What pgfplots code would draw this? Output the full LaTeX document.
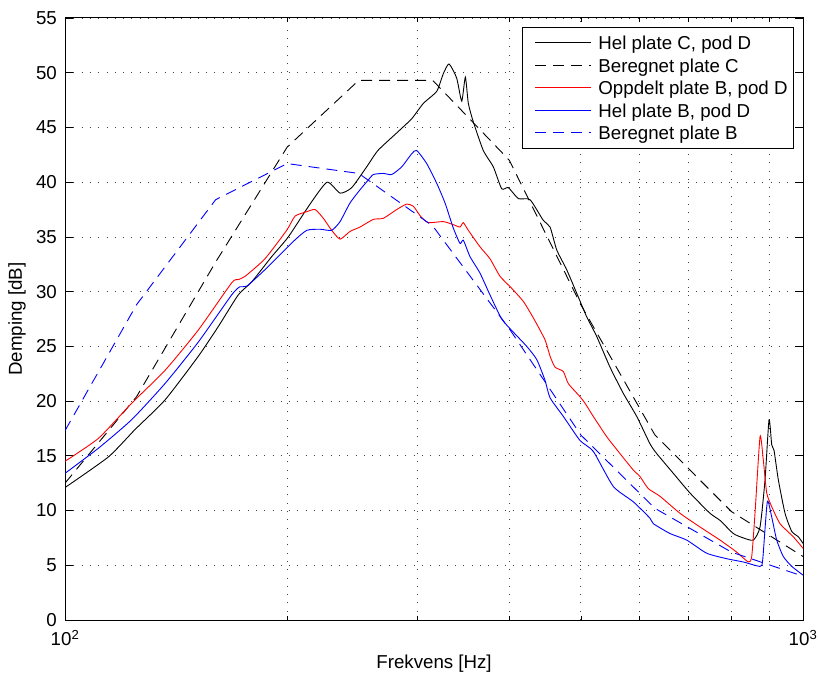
\documentclass[border=0pt]{standalone}
\usepackage{fontspec}
\setmainfont{Liberation Sans}
\usepackage{pgfplots}
\pgfplotsset{compat=1.18}
\begin{document}
\fontsize{18.7pt}{22.4pt}\selectfont
\begin{tikzpicture}
\begin{axis}[
  at={(0pt,0pt)}, anchor=south west,
  scale only axis, width=738pt, height=602pt,
  xmode=log, xmin=100, xmax=1000, ymin=0, ymax=55,
  xtick={100,1000}, xticklabels={10\textsuperscript{2},10\textsuperscript{3}},
  minor xtick={200,300,400,500,600,700,800,900},
  ytick={0,5,...,55},
  /pgf/number format/assume math mode=true,
  tick align=inside, major tick length=8pt, minor tick length=4.5pt,
  every tick/.style={black, line width=0.7pt},
  axis line style={line width=1pt},
  xmajorgrids, xminorgrids, ymajorgrids,
  grid style={black!75, line width=0.8pt, dash pattern=on 1pt off 7.3pt},
  minor grid style={black!75, line width=0.8pt, dash pattern=on 1pt off 7.3pt},
  yticklabel style={inner sep=0pt, anchor=east, xshift=-8pt},
  xticklabel style={inner sep=0pt, anchor=north, yshift=-10pt},
  xlabel={Frekvens [Hz]}, ylabel={Demping [dB]},
  xlabel style={inner sep=0pt, at={(axis description cs:0.5,-0.058)}, anchor=north},
  ylabel style={inner sep=0pt, at={(axis description cs:-0.053,0.5)}, anchor=south},
  legend cell align=left,
  legend style={at={(rel axis cs:0.9878,0.985)}, anchor=north east,
    draw=black, line width=0.8pt, inner xsep=6pt, inner ysep=8.5pt,
    nodes={inner sep=0pt, text height=14pt, text depth=0pt},
    row sep=8.5pt, column sep=0pt},
  legend image code/.code={\path (-6pt,0pt) (63pt,0pt); \draw[#1] (0pt,0pt) -- (56pt,0pt);},
]
\addplot[black, line width=0.9pt, smooth, tension=0.35] coordinates {
(100,12.1)(114.5,14.9)(124.4,17.4)(136.6,20.1)(151.6,24.1)(161.3,26.8)(171.7,29.7)(179.1,30.9)(190.6,33.2)(200.7,35.0)(214.8,38.0)(226.5,40.0)(235.9,39.0)(244.6,39.5)(256.3,41.4)(265.5,42.9)(281.5,44.5)(295.0,45.8)(305.9,47.2)(318.9,48.3)(325.5,49.9)(331.4,50.8)(339.4,49.5)(344.8,47.4)(348.7,49.6)(352.0,47.2)(357.5,45.5)(368.8,42.9)(380.5,41.4)(390.6,39.4)(398.8,39.5)(411.4,38.5)(426.7,38.4)(444.8,36.5)(454.2,35.9)(463.8,33.8)(478.4,32.0)(496.1,29.5)(509.2,27.7)(525.4,25.9)(547.6,23.1)(570.9,20.7)(595.2,18.6)(620.4,16.1)(633.6,15.2)(667.2,13.4)(702.9,11.6)(748.1,9.75)(771.9,9.1)(804.6,7.9)(830.1,7.5)(856.4,7.3)(874.5,8.5)(888.2,12.8)(899.4,18.3)(907.0,16.0)(913.5,15.5)(925.9,12.8)(945.4,9.75)(965.4,8.1)(985.5,7.6)(1000,7.0)
};
\addlegendentry{Hel plate C, pod D}
\addplot[black, line width=0.9pt, dash pattern=on 11pt off 7pt] coordinates {
(100,12.5)(125,20.4)(160,32.7)(200,43.2)(250,49.3)(315,49.3)(400,42.0)(500,28.8)(630,16.9)(800,9.9)(1000,5.8)
};
\addlegendentry{Beregnet plate C}
\addplot[red, line width=0.9pt, smooth, tension=0.35] coordinates {
(100,14.5)(111.0,16.6)(123.1,19.8)(136.6,22.8)(151.6,26.5)(168.2,30.8)(171.7,31.1)(175.4,31.4)(186.6,33.0)(199.7,35.6)(205.0,36.9)(212.6,37.3)(218.2,37.5)(223.9,36.7)(229.8,35.6)(235.9,34.8)(243.3,35.5)(251.0,35.9)(261.7,36.6)(270.0,36.7)(281.5,37.5)(290.4,38.0)(296.5,37.8)(303.5,36.85)(310.7,36.3)(325.5,36.4)(336.5,36.1)(343.0,35.9)(346.5,36.3)(352.0,35.6)(365.0,34.1)(376.6,33.0)(388.6,31.4)(403.0,30.3)(417.9,29.1)(431.1,27.6)(447.1,25.6)(454.2,24.1)(461.3,23.1)(473.4,22.7)(480.8,21.6)(498.7,20.4)(506.6,19.8)(519.8,18.6)(542.0,16.75)(565.0,15.2)(588.9,13.7)(601.4,13.1)(617.2,12.0)(640.1,11.3)(681.3,9.75)(725.1,8.5)(771.9,7.3)(813.1,6.2)(843.1,5.3)(852.1,5.8)(860.9,9.75)(874.5,16.75)(883.5,14.6)(892.9,11.6)(907.0,10.35)(930.8,8.8)(970.2,7.6)(1000,6.55)
};
\addlegendentry{Oppdelt plate B, pod D}
\addplot[blue, line width=0.9pt, smooth, tension=0.35] coordinates {
(100,13.4)(111.0,15.7)(123.1,18.3)(136.6,21.6)(151.6,25.4)(168.2,29.7)(172.6,30.45)(176.3,30.5)(186.6,32.0)(204.0,34.6)(212.6,35.6)(221.6,35.7)(229.8,35.6)(235.9,36.4)(243.3,38.1)(251.0,39.3)(257.6,40.2)(261.7,40.7)(270.0,40.8)(277.1,40.7)(285.9,41.4)(295.0,42.6)(299.6,42.9)(309.1,41.7)(318.9,39.9)(327.3,38.1)(335.9,35.8)(343.0,34.4)(346.5,34.7)(353.8,33.2)(365.0,31.7)(376.6,29.7)(390.6,27.5)(405.0,26.3)(422.3,25.0)(435.7,23.8)(447.1,21.9)(454.2,20.3)(473.4,18.6)(498.7,16.4)(519.8,15.4)(553.3,12.2)(588.9,10.8)(620.4,9.3)(626.9,8.8)(660.4,7.9)(695.7,7.3)(740.5,6.1)(788.2,5.6)(830.1,5.3)(874.5,4.9)(881.8,5.5)(894.6,10.8)(907.0,9.4)(921.2,7.3)(940.4,5.8)(965.4,4.9)(1000,4.1)
};
\addlegendentry{Hel plate B, pod D}
\addplot[blue, line width=0.9pt, dash pattern=on 11pt off 7pt] coordinates {
(100,17.3)(125,28.8)(160,38.4)(200,41.7)(250,40.8)(315,36.0)(400,26.6)(500,16.9)(630,10.2)(800,6.2)(1000,4.0)
};
\addlegendentry{Beregnet plate B}
\end{axis}
\pgfresetboundingbox
\path[use as bounding box] (-65pt,-54pt) rectangle (753pt,620pt);
\end{tikzpicture}
\end{document}
